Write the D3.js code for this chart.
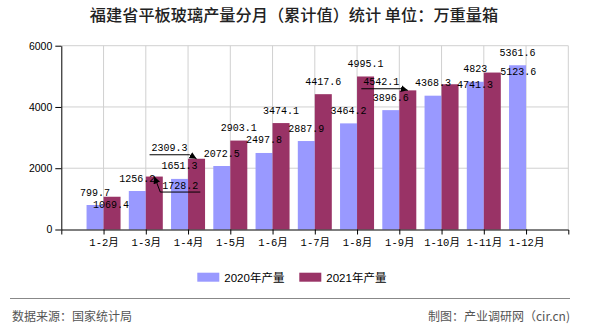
<!DOCTYPE html>
<html><head><meta charset="utf-8">
<script src="https://cdn.jsdelivr.net/npm/d3@7"></script>
<style>
body{margin:0;background:#fff;}
svg{display:block;}
</style></head>
<body>
<svg id="c" width="590" height="330"></svg>
<script>
const categories = ["1-2月","1-3月","1-4月","1-5月","1-6月","1-7月","1-8月","1-9月","1-10月","1-11月","1-12月"];
const values2020 = [799.7,1256.2,1651.3,2072.5,2497.8,2887.9,3464.2,3896.6,4368.3,4823,5361.6];
const values2021 = [1069.4,1728.2,2309.3,2903.1,3474.1,4417.6,4995.1,4542.1,4741.3,5123.6,null];
const seriesNames = ["2020年产量","2021年产量"];
const yTicks = [0,2000,4000,6000];
const titleText = "福建省平板玻璃产量分月（累计值）统计 单位：万重量箱";
const sourceText = "数据来源：国家统计局";
const creditText = "制图：产业调研网（cir.cn)";

// layout: label offsets (dx, dy of label centre from bar top centre), leader flags
const labelOffset2021 = [[-1,8],[26,8.5],[-27,-11],null,null,null,null,[-26.5,-8.6],[25,0.5],[26,-0.8],null];
const leader2021 = [false,true,true,false,false,false,false,true,false,false,false];

const colors = ["#9999ff","#993366"];
const svg = d3.select("#c");
const L = 61.3, R = 568.3, T = 45.7, B = 229.5;
const x = d3.scalePoint().domain(categories).range([L, R]).padding(1);
const y = d3.scaleLinear().domain([0,6000]).range([B, T]);
const bw = 17;

svg.append("defs").append("marker").attr("id","arr").attr("viewBox","0 0 10 10")
  .attr("refX",10).attr("refY",5).attr("markerWidth",7).attr("markerHeight",7)
  .attr("markerUnits","userSpaceOnUse").attr("orient","auto")
  .append("path").attr("d","M0,0L10,5L0,10z").attr("fill","#000");

// title
svg.append("text").attr("x",294).attr("y",21).attr("text-anchor","middle")
  .attr("font-family","'Noto Sans CJK SC'").attr("font-size",16.2).attr("fill","#222")
  .attr("font-weight",500).text(titleText);

// gridlines
const g = svg.append("g");
g.selectAll(".hg").data(yTicks.filter(d=>d>0)).join("line")
  .attr("x1",L).attr("x2",R).attr("y1",d=>y(d)).attr("y2",d=>y(d))
  .attr("stroke","#d0d0d0").attr("stroke-width",1);
g.selectAll(".vg").data(categories).join("line")
  .attr("x1",d=>x(d)).attr("x2",d=>x(d)).attr("y1",T).attr("y2",B)
  .attr("stroke","#d0d0d0").attr("stroke-width",1);
g.append("line").attr("x1",R).attr("x2",R).attr("y1",T).attr("y2",B).attr("stroke","#d0d0d0");

// bars
const bars = svg.append("g");
bars.selectAll(".b0").data(values2020).join("rect")
  .attr("x",(d,i)=>x(categories[i])-bw).attr("width",bw)
  .attr("y",d=>y(d)).attr("height",d=>B-y(d)).attr("fill",colors[0]);
bars.selectAll(".b1").data(values2021.map((v,i)=>({v,i})).filter(d=>d.v!=null)).join("rect")
  .attr("x",d=>x(categories[d.i])).attr("width",bw)
  .attr("y",d=>y(d.v)).attr("height",d=>B-y(d.v)).attr("fill",colors[1]);

// axes
const ya = svg.append("g").attr("transform",`translate(${L},0)`)
  .call(d3.axisLeft(y).tickValues(yTicks).tickSize(6).tickSizeOuter(0).tickPadding(3).tickFormat(d3.format("d")));
ya.select(".domain").attr("stroke","#000");
ya.selectAll("line").attr("stroke","#000");
ya.selectAll("text").attr("font-family","'Liberation Sans',Arial").attr("font-size",10.5).attr("fill","#000");

const xa = svg.append("g").attr("transform",`translate(0,${B})`)
  .call(d3.axisBottom(x).tickSize(5).tickSizeOuter(5).tickPadding(4));
xa.select(".domain").attr("stroke","#000");
xa.selectAll("line").attr("stroke","#000");
xa.selectAll("text").attr("font-family","'Liberation Mono','Noto Sans CJK SC'").attr("font-size",10.5).attr("fill","#000");

// labels
const lf = "'Liberation Mono','DejaVu Sans Mono',monospace";
const lab = svg.append("g").attr("font-family",lf).attr("font-size",10).attr("fill","#000");
values2020.forEach((v,i)=>{
  lab.append("text").attr("x",x(categories[i])-bw/2).attr("y",y(v)-13+3.5)
    .attr("text-anchor","middle").text(String(v));
});
values2021.forEach((v,i)=>{
  if(v==null) return;
  const cx = x(categories[i])+bw/2, ty = y(v);
  const off = labelOffset2021[i] || [0,-13];
  const lx = cx+off[0], ly = ty+off[1];
  const t = lab.append("text").attr("x",lx).attr("y",ly+3.5).attr("text-anchor","middle").text(String(v));
  if(leader2021[i]){
    const w = String(v).length*6;
    const uy = ly+7, x0 = lx-w/2-2, x1 = lx+w/2+2;
    lab.append("line").attr("x1",x0).attr("x2",x1).attr("y1",uy).attr("y2",uy).attr("stroke","#000");
    const sx = Math.abs(x0-cx) < Math.abs(x1-cx) ? x0 : x1;
    lab.append("line").attr("x1",sx).attr("y1",uy).attr("x2",cx).attr("y2",ty)
      .attr("stroke","#000").attr("marker-end","url(#arr)");
  }
});

// legend
const lg = svg.append("g");
const legX = [197.3, 299.3];
seriesNames.forEach((n,i)=>{
  lg.append("rect").attr("x",legX[i]).attr("y",272.7).attr("width",22).attr("height",9).attr("fill",colors[i]);
  lg.append("text").attr("x",legX[i]+27).attr("y",281.5)
    .attr("font-family","'Liberation Sans','Noto Sans CJK SC'").attr("font-size",11.5).attr("fill","#000").text(n);
});

// footer
svg.append("line").attr("x1",10).attr("x2",570).attr("y1",298.5).attr("y2",298.5).attr("stroke","#888").attr("stroke-width",1);
svg.append("text").attr("x",12).attr("y",320.5).attr("font-family","'Noto Sans CJK SC'").attr("font-size",12)
  .attr("fill","#555").text(sourceText);
svg.append("text").attr("x",570).attr("y",320.5).attr("text-anchor","end").attr("font-family","'Noto Sans CJK SC'").attr("font-size",12)
  .attr("fill","#555").text(creditText);
</script>
</body></html>
